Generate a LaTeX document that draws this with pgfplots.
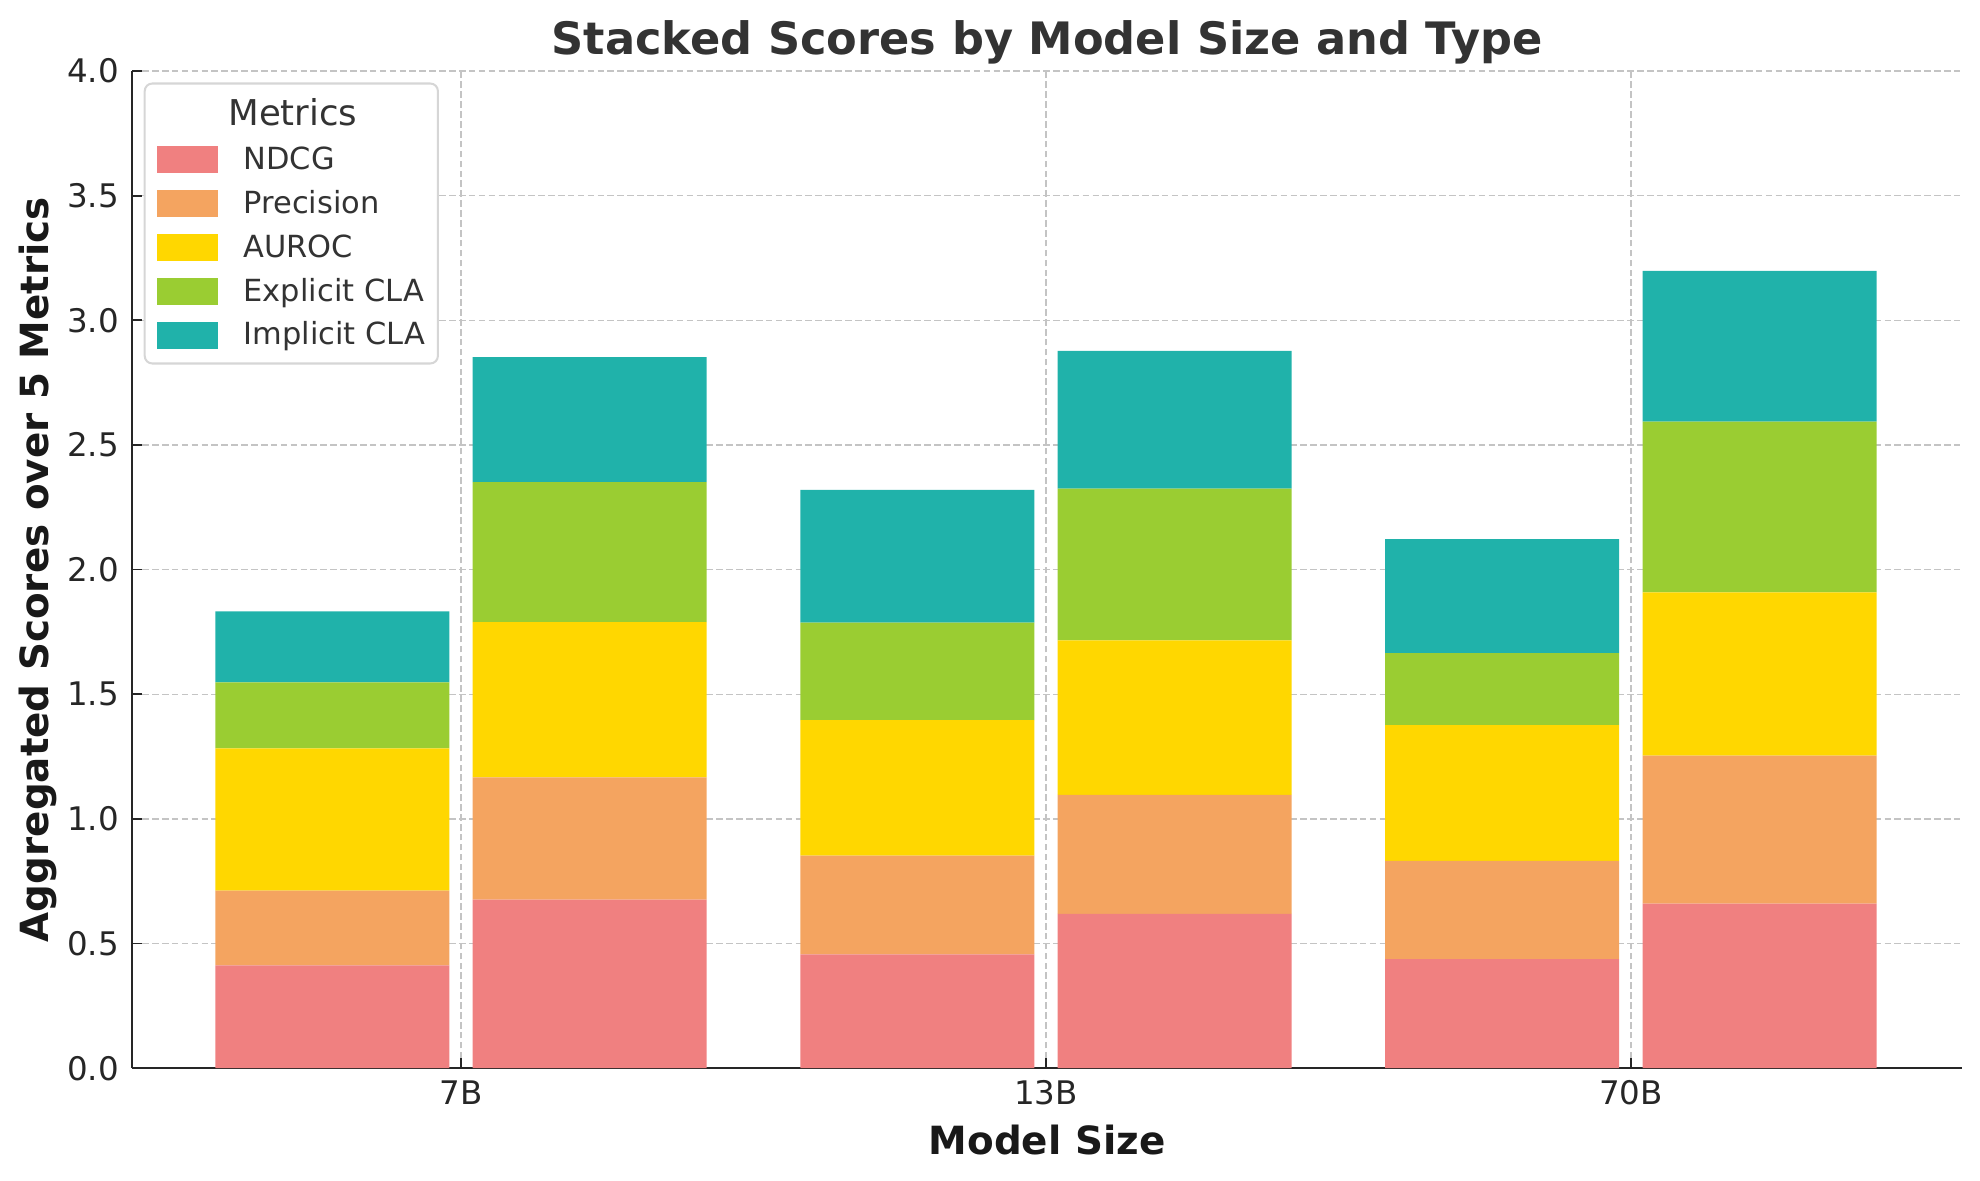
\documentclass[border=0pt]{standalone}
\usepackage{fontspec}
\setmainfont{DejaVu Sans}
\usepackage{pgfplots}
\pgfplotsset{compat=1.18}
\definecolor{ndcg}{HTML}{F08080}
\definecolor{prec}{HTML}{F4A460}
\definecolor{auroc}{HTML}{FFD700}
\definecolor{expl}{HTML}{9ACD32}
\definecolor{impl}{HTML}{20B2AA}
\definecolor{gridc}{HTML}{C4C4C4}
\definecolor{spine}{HTML}{262626}
\definecolor{txt}{HTML}{333333}
\begin{document}
\begin{tikzpicture}
\begin{axis}[
  scale only axis, width=720.8pt, height=392.8pt,
  xmin=-0.562, xmax=2.566, ymin=0, ymax=4,
  ybar stacked, bar width=0.4,
  xtick={0,1,2}, xticklabels={7B,13B,70B},
  ytick={0,0.5,1,1.5,2,2.5,3,3.5,4},
  /pgf/number format/assume math mode=true,
  yticklabel style={/pgf/number format/.cd, fixed, fixed zerofill, precision=1, /tikz/.cd, anchor=east, xshift=-1.8pt},
  xticklabel style={anchor=base, yshift=-14.5pt},
  ticklabel style={font=\fontsize{12.8}{15}\selectfont, text=spine},
  axis x line*=bottom, axis y line*=left,
  axis line style={-, line width=0.67pt, draw=spine},
  tick style={line width=0.67pt, draw=spine},
  tick align=inside, major tick length=3.9pt,
  grid=major,
  major grid style={draw=gridc, line width=0.55pt, dash pattern=on 2.6pt off 1.3pt},
  title={Stacked Scores by Model Size and Type},
  every axis title shift=0pt,
  title style={font=\fontsize{17.6}{20}\selectfont\bfseries, text=txt, at={(axis description cs:0.5,1)}, anchor=base, yshift=6.5pt},
  xlabel={Model Size},
  xlabel style={font=\fontsize{15.3}{18}\selectfont\bfseries, text=black!90, at={(axis description cs:0.5,0)}, anchor=base, yshift=-34pt},
  ylabel={Aggregated Scores over 5 Metrics},
  ylabel style={font=\fontsize{15.3}{18}\selectfont\bfseries, text=black!90, at={(axis description cs:-0.0458,0.5)}, anchor=base},
  legend style={at={(axis description cs:0,1)}, anchor=north west, xshift=4.5pt, yshift=-4.5pt,
    draw=black!16, line width=0.8pt, rounded corners=3pt, fill=white,
    font=\fontsize{12}{14}\selectfont, text=txt,
    inner xsep=5pt, inner ysep=4.5pt, row sep=5.5pt, column sep=10pt,
    nodes={inner sep=0pt, text height=8.8pt, text depth=2.8pt}},
  legend cell align=left,
  legend image code/.code={\fill[#1, sharp corners] (0pt,-4.5pt) rectangle (24pt,6pt);},
]
\addlegendimage{empty legend}
\addlegendentry[font=\fontsize{14}{16}\selectfont, text height=12pt]{\hspace*{-6pt}Metrics}
\addplot[fill=ndcg, draw=none] coordinates {(-0.22,0.412) (0.22,0.676) (0.78,0.457) (1.22,0.619) (1.78,0.437) (2.22,0.660)};
\addlegendentry{NDCG}
\addplot[fill=prec, draw=none] coordinates {(-0.22,0.300) (0.22,0.491) (0.78,0.396) (1.22,0.477) (1.78,0.395) (2.22,0.594)};
\addlegendentry{Precision}
\addplot[fill=auroc, draw=none] coordinates {(-0.22,0.571) (0.22,0.622) (0.78,0.543) (1.22,0.620) (1.78,0.544) (2.22,0.655)};
\addlegendentry{AUROC}
\addplot[fill=expl, draw=none] coordinates {(-0.22,0.265) (0.22,0.562) (0.78,0.391) (1.22,0.609) (1.78,0.289) (2.22,0.685)};
\addlegendentry{Explicit CLA}
\addplot[fill=impl, draw=none] coordinates {(-0.22,0.284) (0.22,0.501) (0.78,0.533) (1.22,0.553) (1.78,0.457) (2.22,0.604)};
\addlegendentry{Implicit CLA}
\end{axis}
\pgfresetboundingbox
\path[use as bounding box] ([shift={(-52.1pt,-44.1pt)}]current axis.south west) rectangle ++(780pt,464.9pt);
\end{tikzpicture}
\end{document}
